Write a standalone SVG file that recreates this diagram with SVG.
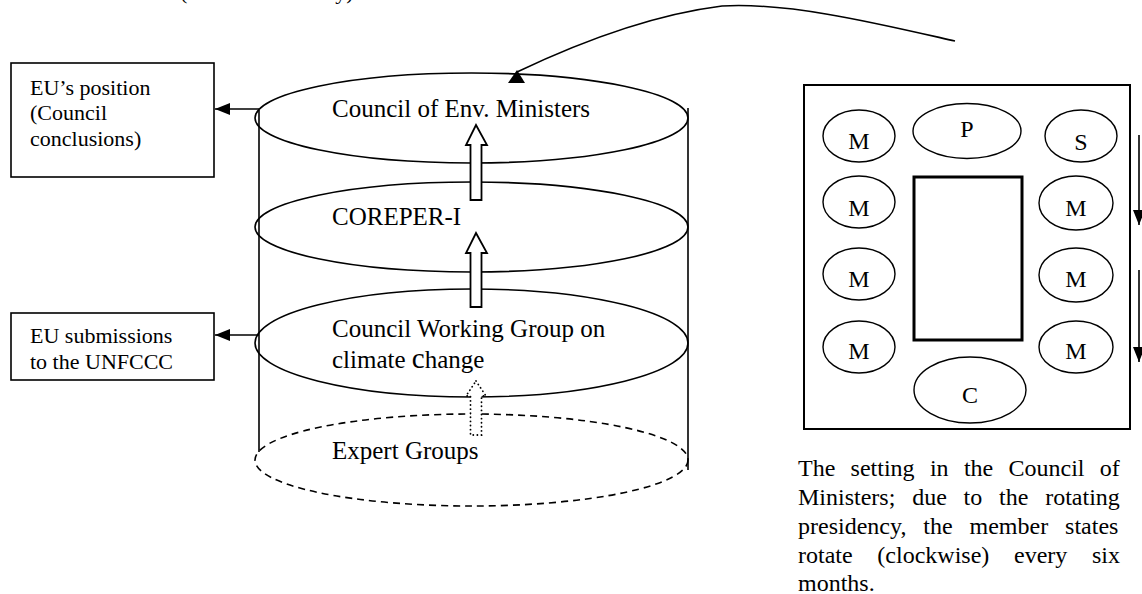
<svg xmlns="http://www.w3.org/2000/svg" width="1142" height="594" viewBox="0 0 1142 594">
<style>
text{font-family:"Liberation Serif","Times New Roman",serif;fill:#000}
.box{fill:#fff;stroke:#000;stroke-width:1.6}
.lvl{fill:none;stroke:#000;stroke-width:1.6}
.cyl{fill:none;stroke:#000;stroke-width:1.6}
.seat{fill:#fff;stroke:#000;stroke-width:1.4}
.conn{fill:none;stroke:#000;stroke-width:1.6}
.up{fill:#fff;stroke:#000;stroke-width:1.8}
.t25{font-size:25px}
.t22{font-size:22px}
.t24{font-size:24px}
.seatT{font-size:24px;text-anchor:middle}
</style>
<defs>
<marker id="ah" markerUnits="userSpaceOnUse" markerWidth="16" markerHeight="12" refX="15" refY="6" orient="auto" viewBox="0 0 16 12">
<path d="M0,0 L15,6 L0,12 z" fill="#000"/>
</marker>
<marker id="ahUp" markerUnits="userSpaceOnUse" markerWidth="18" markerHeight="14" refX="9" refY="2" orient="0" viewBox="0 0 18 14">
<path d="M9,0 L17,13 L0,13 z" fill="#000"/>
</marker>
</defs>
<rect width="1142" height="594" fill="#fff"/>

<text x="180" y="-1" class="t22" fill="#444">(order of hierarchy) in the EU</text>

<g id="cylinder">
<line class="cyl" x1="259" y1="110" x2="259" y2="452"/>
<line class="cyl" x1="688" y1="108" x2="688" y2="470"/>
</g>

<g id="council-ministers">
<ellipse class="lvl" cx="471.5" cy="118" rx="216.5" ry="45"/>
<text x="332" y="117" class="t25">Council of Env. Ministers</text>
</g>
<g id="coreper">
<ellipse class="lvl" cx="471.5" cy="227" rx="216.5" ry="45"/>
<text x="332" y="225" class="t25">COREPER-I</text>
</g>
<g id="working-group">
<ellipse class="lvl" cx="471.5" cy="343" rx="216.5" ry="54"/>
<text x="332" y="337" class="t25">Council Working Group on</text>
<text x="332" y="368" class="t25">climate <tspan font-size="29">c</tspan>hange</text>
</g>
<g id="expert-groups">
<ellipse class="lvl" cx="471.5" cy="460" rx="216.5" ry="46" stroke-dasharray="7 5"/>
<text x="332" y="459" class="t25">Expert Groups</text>
</g>

<g id="eu-position">
<rect class="box" x="11" y="63" width="203" height="114"/>
<text x="30" y="95" class="t22">EU’s position</text>
<text x="30" y="120" class="t22">(Council</text>
<text x="30" y="146" class="t22">conclusions)</text>
</g>
<g id="eu-submissions">
<rect class="box" x="11" y="313" width="203" height="67"/>
<text x="30" y="343" class="t22">EU submissions</text>
<text x="30" y="369" class="t22">to the UNFCCC</text>
</g>

<g id="council-setting">
<rect x="804" y="85" width="326" height="344" fill="#fff" stroke="#000" stroke-width="2"/>
<rect x="914" y="177" width="108" height="163" fill="none" stroke="#000" stroke-width="3"/>
<ellipse class="seat" cx="859" cy="136" rx="36" ry="26"/>
<text class="seatT" x="859" y="149">M</text>
<ellipse class="seat" cx="859" cy="202" rx="36" ry="26"/>
<text class="seatT" x="859" y="216">M</text>
<ellipse class="seat" cx="859" cy="274" rx="36" ry="26"/>
<text class="seatT" x="859" y="287">M</text>
<ellipse class="seat" cx="859" cy="347" rx="36" ry="26"/>
<text class="seatT" x="859" y="359">M</text>
<ellipse class="seat" cx="967" cy="131" rx="54" ry="27.5"/>
<text class="seatT" x="967" y="137">P</text>
<ellipse class="seat" cx="1081" cy="136" rx="36" ry="26"/>
<text class="seatT" x="1081" y="150">S</text>
<ellipse class="seat" cx="1076" cy="203" rx="37" ry="27"/>
<text class="seatT" x="1076" y="216">M</text>
<ellipse class="seat" cx="1076" cy="275" rx="37" ry="27"/>
<text class="seatT" x="1076" y="287">M</text>
<ellipse class="seat" cx="1076" cy="347" rx="37" ry="26"/>
<text class="seatT" x="1076" y="359">M</text>
<ellipse class="seat" cx="970" cy="390" rx="56" ry="33"/>
<text class="seatT" x="970" y="403">C</text>
</g>

<g id="caption" class="t24">
<text x="798" y="476" word-spacing="9.3">The setting in the Council of</text>
<text x="798" y="505" word-spacing="10.8">Ministers; due to the rotating</text>
<text x="798" y="534" word-spacing="10.9">presidency, the member states</text>
<text x="798" y="563" word-spacing="18.7">rotate (clockwise) every six</text>
<text x="798" y="591">months.</text>
</g>

<g id="connectors">
<line class="conn" x1="259" y1="109" x2="215" y2="109" marker-end="url(#ah)"/>
<line class="conn" x1="259" y1="335" x2="215" y2="335" marker-end="url(#ah)"/>
<path class="conn" d="M955,41 C880,24 790,2 722,6 C650,15 580,42 517,72" marker-end="url(#ahUp)"/>
<line class="conn" x1="1139" y1="135" x2="1139" y2="225" marker-end="url(#ah)"/>
<line class="conn" x1="1139" y1="270" x2="1139" y2="362" marker-end="url(#ah)"/>
<path class="up" d="M476,125 L487,145 L481.5,145 L481.5,200 L470.5,200 L470.5,145 L466,145 Z"/>
<path class="up" d="M476,233 L487,253 L481.5,253 L481.5,307 L470.5,307 L470.5,253 L466,253 Z"/>
<path class="up" d="M476,381 L486,396 L481.5,396 L481.5,435 L470.5,435 L470.5,396 L466,396 Z" stroke-dasharray="0.1 4" stroke-linecap="round" stroke-width="3"/>
</g>
</svg>
